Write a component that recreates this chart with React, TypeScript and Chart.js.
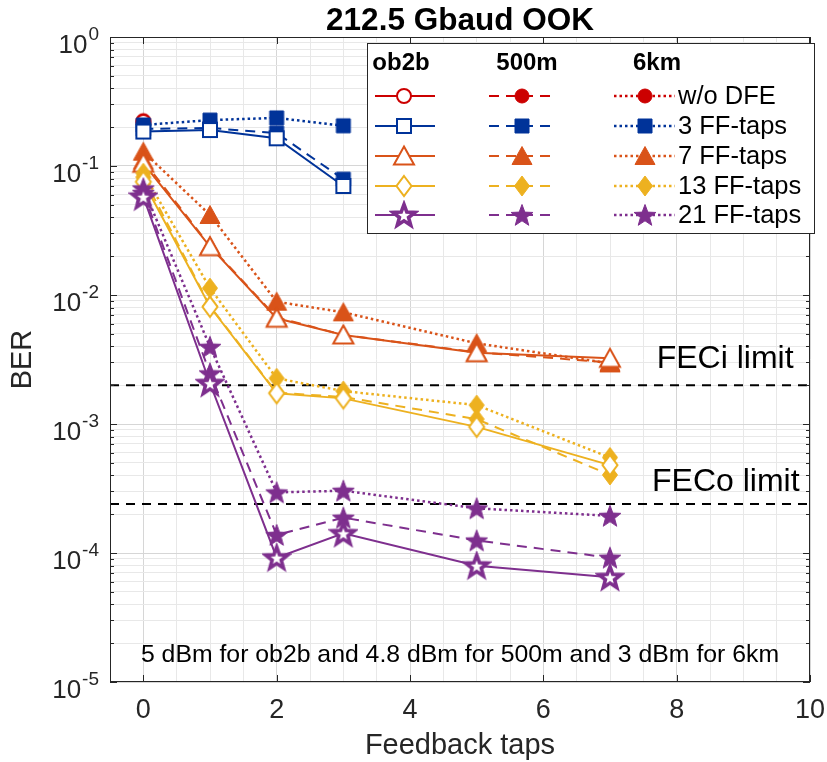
import React, { useEffect, useRef } from 'react';
import { Chart, registerables } from 'chart.js';

Chart.register(...registerables);

const FONT = '"Liberation Sans", Arial, Helvetica, sans-serif';

// Feedback taps (x) for each family
const tapsFull = [0, 1, 2, 3, 5, 7];
const tapsShort = [0, 1, 2, 3];
const tapsNone = [0];

// BER values: w/o DFE
const woDfeOb2b = [0.22];
const woDfe500m = [0.225];
const woDfe6km = [0.218];

// 3 FF-taps
const ff3Ob2b = [0.185, 0.19, 0.164, 0.07];
const ff3M500 = [0.194, 0.197, 0.18, 0.079];
const ff3Km6 = [0.208, 0.227, 0.236, 0.205];

// 7 FF-taps
const ff7Ob2b = [0.105, 0.0237, 0.0066, 0.0049, 0.00357, 0.00323];
const ff7M500 = [0.11, 0.024, 0.0067, 0.0049, 0.0036, 0.003];
const ff7Km6 = [0.129, 0.0417, 0.00887, 0.00734, 0.00422, 0.00295];

// 13 FF-taps
const ff13Ob2b = [0.0755, 0.0081, 0.00173, 0.00158, 0.00095, 0.00048];
const ff13M500 = [0.082, 0.0082, 0.00175, 0.00162, 0.00109, 0.000403];
const ff13Km6 = [0.0878, 0.0113, 0.00226, 0.0018, 0.0014, 0.00055];

// 21 FF-taps
const ff21Ob2b = [0.0578, 0.00207, 0.000092, 0.000142, 0.0000798, 0.0000649];
const ff21M500 = [0.062, 0.00247, 0.000138, 0.000188, 0.000125, 0.000092];
const ff21Km6 = [0.067, 0.00397, 0.000295, 0.000304, 0.000222, 0.000194];

// FEC thresholds
const fecLimits = [2e-3, 2.4e-4];
const fecLabels = ['FECi limit', 'FECo limit'];

// axes
const xTickLabels = [0, 2, 4, 6, 8, 10];
const xGrid = [0, 0.5, 1, 1.5, 2, 2.5, 3, 3.5, 4, 4.5, 5, 5.5, 6, 6.5, 7, 7.5, 8, 8.5, 9, 9.5, 10];
const yDecades = [0, -1, -2, -3, -4, -5];
const yMantissas = [1, 2, 3, 4, 5, 6, 7, 8, 9];

// legend / text
const chartTitle = '212.5 Gbaud OOK';
const xTitle = 'Feedback taps';
const yTitle = 'BER';
const noteText = '5 dBm for ob2b and 4.8 dBm for 500m and 3 dBm for 6km';
const columnHeaders = ['ob2b', '500m', '6km'];
const seriesLabels = ['w/o DFE', '3 FF-taps', '7 FF-taps', '13 FF-taps', '21 FF-taps'];
const seriesColors = ['#CC0000', '#003399', '#D95319', '#EDB120', '#7E2F8E'];
const seriesMarkers = ['circle', 'square', 'triangle', 'diamond', 'star'];
const seriesTaps = [tapsNone, tapsShort, tapsFull, tapsFull, tapsFull];
const seriesValues = [
  [woDfeOb2b, woDfe500m, woDfe6km],
  [ff3Ob2b, ff3M500, ff3Km6],
  [ff7Ob2b, ff7M500, ff7Km6],
  [ff13Ob2b, ff13M500, ff13Km6],
  [ff21Ob2b, ff21M500, ff21Km6],
];

const LINE_DASHES = [[], [10, 7], [2.5, 3]];
const LINE_WIDTHS = [2, 2, 2.5];

function shapePath(ctx: CanvasRenderingContext2D, shape: string, cx: number, cy: number) {
  ctx.beginPath();
  if (shape === 'circle') {
    ctx.arc(cx, cy, 7, 0, Math.PI * 2);
  } else if (shape === 'square') {
    ctx.rect(cx - 7, cy - 7, 14, 14);
  } else if (shape === 'triangle') {
    ctx.moveTo(cx, cy - 9.5);
    ctx.lineTo(cx + 10, cy + 8.5);
    ctx.lineTo(cx - 10, cy + 8.5);
    ctx.closePath();
  } else if (shape === 'diamond') {
    ctx.moveTo(cx, cy - 10);
    ctx.lineTo(cx + 7.5, cy);
    ctx.lineTo(cx, cy + 10);
    ctx.lineTo(cx - 7.5, cy);
    ctx.closePath();
  } else {
    const R = 11.5;
    const r = 4.8;
    for (let i = 0; i < 10; i++) {
      const a = -Math.PI / 2 + (i * Math.PI) / 5;
      const rr = i % 2 === 0 ? R : r;
      const px = cx + rr * Math.cos(a);
      const py = cy + rr * Math.sin(a) + 1;
      if (i === 0) ctx.moveTo(px, py);
      else ctx.lineTo(px, py);
    }
    ctx.closePath();
  }
}

function makeMarker(shape: string, color: string, filled: boolean): HTMLCanvasElement {
  const c = document.createElement('canvas');
  c.width = 30;
  c.height = 30;
  const ctx = c.getContext('2d')!;
  shapePath(ctx, shape, 15, 15);
  ctx.lineJoin = 'miter';
  if (filled) {
    ctx.fillStyle = color;
    ctx.fill();
    ctx.strokeStyle = color;
    ctx.lineWidth = 1;
    ctx.stroke();
  } else {
    ctx.fillStyle = '#ffffff';
    ctx.fill();
    ctx.strokeStyle = color;
    ctx.lineWidth = shape === 'star' ? 3.6 : 2;
    ctx.stroke();
  }
  return c;
}

export default function App() {
  const ref = useRef<HTMLCanvasElement | null>(null);

  useEffect(() => {
    const canvas = ref.current;
    if (!canvas) return;

    const markers = seriesMarkers.map((m, i) => [
      makeMarker(m, seriesColors[i], false),
      makeMarker(m, seriesColors[i], true),
      makeMarker(m, seriesColors[i], true),
    ]);

    const datasets: any[] = [];
    // FEC lines
    fecLimits.forEach((lim, i) => {
      datasets.push({
        label: fecLabels[i],
        data: [
          { x: -0.5, y: lim },
          { x: 10, y: lim },
        ],
        borderColor: '#000000',
        borderWidth: 2,
        borderDash: [9, 7],
        pointRadius: 0,
        fill: false,
        order: 20,
      });
    });
    seriesValues.forEach((group, si) => {
      group.forEach((vals, ci) => {
        datasets.push({
          label: seriesLabels[si] + ' ' + columnHeaders[ci],
          data: seriesTaps[si].map((x, k) => ({ x, y: vals[k] })),
          borderColor: seriesColors[si],
          backgroundColor: seriesColors[si],
          borderWidth: LINE_WIDTHS[ci],
          borderDash: LINE_DASHES[ci],
          pointStyle: markers[si][ci],
          pointRadius: 9,
          pointHoverRadius: 9,
          fill: false,
          tension: 0,
          order: 10 - si,
        });
      });
    });

    const gridY: number[] = [];
    for (const d of yDecades.slice().reverse()) {
      if (d === 0) {
        gridY.push(1);
      } else {
        for (const m of yMantissas) gridY.push(m * Math.pow(10, d));
      }
    }
    const isDecade = (v: number) => Math.abs(Math.log10(v) - Math.round(Math.log10(v))) < 1e-6;

    const decor = {
      id: 'decor',
      afterDraw(chart: any) {
        const { ctx, chartArea } = chart;
        const { left, right, top, bottom } = chartArea;
        const xs = chart.scales.x;
        const ys = chart.scales.y;
        ctx.save();

        // frame
        ctx.strokeStyle = '#262626';
        ctx.lineWidth = 1;
        ctx.setLineDash([]);
        ctx.strokeRect(left + 0.5, top + 0.5, right - left - 1, bottom - top - 1);

        // inward ticks
        ctx.beginPath();
        for (const v of xTickLabels) {
          const px = Math.round(xs.getPixelForValue(v)) + 0.5;
          ctx.moveTo(px, bottom);
          ctx.lineTo(px, bottom - 7);
          ctx.moveTo(px, top);
          ctx.lineTo(px, top + 7);
        }
        for (const v of gridY) {
          const py = Math.round(ys.getPixelForValue(v)) + 0.5;
          const len = isDecade(v) ? 7 : 4;
          ctx.moveTo(left, py);
          ctx.lineTo(left + len, py);
          ctx.moveTo(right, py);
          ctx.lineTo(right - len, py);
        }
        ctx.stroke();

        // y tick labels with superscripts
        ctx.fillStyle = '#262626';
        ctx.textBaseline = 'alphabetic';
        ctx.textAlign = 'left';
        for (const k of yDecades) {
          const py = ys.getPixelForValue(Math.pow(10, k));
          const sup = k === 0 ? '0' : '-' + String(-k);
          ctx.font = `19px ${FONT}`;
          const ws = ctx.measureText(sup).width;
          ctx.font = `26px ${FONT}`;
          const wb = ctx.measureText('10').width;
          const rightEdge = left - 11;
          ctx.fillText('10', rightEdge - ws - wb - 1, py + 16);
          ctx.font = `19px ${FONT}`;
          ctx.fillText(sup, rightEdge - ws, py + 3);
        }

        // title
        ctx.fillStyle = '#000000';
        ctx.font = `bold 31.5px ${FONT}`;
        ctx.textAlign = 'center';
        ctx.fillText(chartTitle, (left + right) / 2, 30);

        // FEC labels
        ctx.font = `32px ${FONT}`;
        ctx.textAlign = 'left';
        const fecTextX = [7.7, 7.63];
        const fecTextDy = [-17, -13];
        fecLimits.forEach((lim, i) => {
          const py = ys.getPixelForValue(lim);
          ctx.fillText(fecLabels[i], xs.getPixelForValue(fecTextX[i]), py + fecTextDy[i]);
        });

        // note
        ctx.font = `24.8px ${FONT}`;
        ctx.textAlign = 'center';
        ctx.fillText(noteText, (left + right) / 2, bottom - 20);

        // legend
        const bx = 367, by = 43, bw = 447, bh = 190;
        ctx.fillStyle = '#ffffff';
        ctx.fillRect(bx, by, bw, bh);
        ctx.strokeStyle = '#262626';
        ctx.lineWidth = 1;
        ctx.strokeRect(bx + 0.5, by + 0.5, bw, bh);

        ctx.fillStyle = '#000000';
        ctx.font = `bold 24px ${FONT}`;
        ctx.textAlign = 'center';
        ctx.textBaseline = 'middle';
        const headX = [401, 527, 657];
        columnHeaders.forEach((h, j) => ctx.fillText(h, headX[j], 63));

        const rowY = [96, 126, 156, 186, 215];
        const segs = [
          [375, 435, 404],
          [489, 557, 522],
          [614, 675, 645],
        ];
        seriesLabels.forEach((lab, i) => {
          const ry = rowY[i];
          for (let j = 0; j < 3; j++) {
            const [x0, x1, mx] = segs[j];
            ctx.beginPath();
            ctx.setLineDash(LINE_DASHES[j]);
            ctx.lineDashOffset = 0;
            ctx.strokeStyle = seriesColors[i];
            ctx.lineWidth = LINE_WIDTHS[j];
            ctx.moveTo(x0, ry);
            ctx.lineTo(x1, ry);
            ctx.stroke();
            ctx.setLineDash([]);
            const mk = markers[i][j];
            ctx.drawImage(mk, mx - mk.width / 2, ry - mk.height / 2);
          }
          ctx.fillStyle = '#000000';
          ctx.font = `25.5px ${FONT}`;
          ctx.textAlign = 'left';
          ctx.textBaseline = 'middle';
          ctx.fillText(lab, 678, ry + 1);
        });

        ctx.restore();
      },
    };

    const chart = new Chart(canvas, {
      type: 'line',
      data: { datasets },
      options: {
        animation: false,
        responsive: false,
        devicePixelRatio: 1,
        events: [],
        layout: { padding: { top: 37, right: 17, bottom: 0, left: 0 }, autoPadding: false },
        plugins: {
          legend: { display: false },
          title: { display: false },
          tooltip: { enabled: false },
        },
        scales: {
          x: {
            type: 'linear',
            min: -0.5,
            max: 10,
            afterBuildTicks: (s: any) => {
              s.ticks = xGrid.map((v) => ({ value: v }));
            },
            afterFit: (s: any) => {
              s.height = 80;
              s.paddingLeft = 0;
              s.paddingRight = 0;
            },
            grid: {
              color: (c: any) =>
                c.tick && xTickLabels.includes(c.tick.value) ? '#d6d6d6' : '#e8e8e8',
              lineWidth: 1,
              drawTicks: false,
            },
            border: { display: false },
            ticks: {
              autoSkip: false,
              maxRotation: 0,
              padding: 12,
              color: '#262626',
              font: { family: FONT, size: 27 },
              callback: (v: any) => (xTickLabels.includes(Number(v)) ? String(v) : ''),
            },
            title: {
              display: true,
              text: xTitle,
              color: '#262626',
              font: { family: FONT, size: 29, lineHeight: 1 },
              padding: { top: 0, bottom: 2 },
            },
          },
          y: {
            type: 'logarithmic',
            min: 1e-5,
            max: 1,
            afterBuildTicks: (s: any) => {
              s.ticks = gridY.map((v) => ({ value: v }));
            },
            afterFit: (s: any) => {
              s.width = 110;
              s.paddingTop = 0;
              s.paddingBottom = 0;
            },
            grid: {
              color: (c: any) => (c.tick && isDecade(c.tick.value) ? '#d6d6d6' : '#e8e8e8'),
              lineWidth: 1,
              drawTicks: false,
            },
            border: { display: false },
            ticks: { display: false },
            title: {
              display: true,
              text: yTitle,
              color: '#262626',
              font: { family: FONT, size: 29, lineHeight: 1 },
              padding: { top: 8.5, bottom: 0 },
            },
          },
        },
      },
      plugins: [decor],
    } as any);

    return () => chart.destroy();
  }, []);

  return (
    <div style={{ position: 'fixed', left: 0, top: 0, width: 827, height: 762, background: '#fff' }}>
      <canvas ref={ref} width={827} height={762} style={{ width: 827, height: 762, display: 'block' }} />
    </div>
  );
}
